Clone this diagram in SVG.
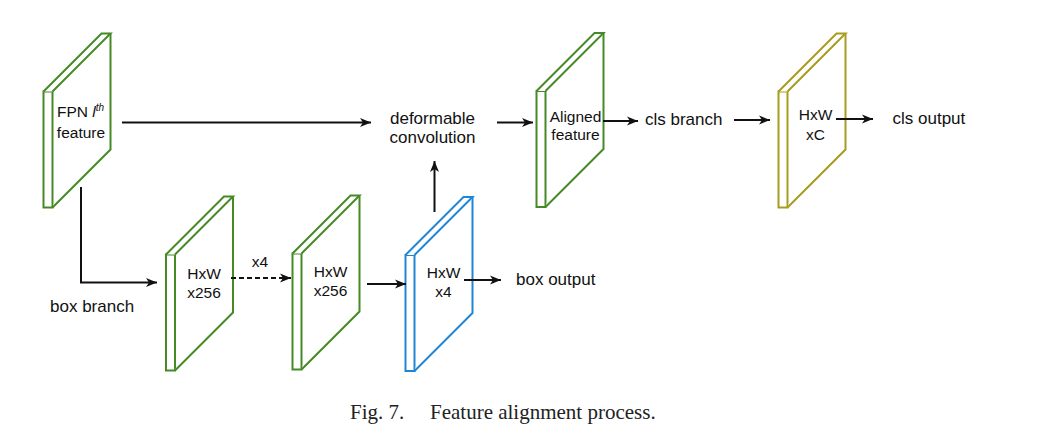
<svg xmlns="http://www.w3.org/2000/svg" width="1045" height="446" viewBox="0 0 1045 446">
<style>
.slab path{fill:#fff;stroke-width:2;stroke-linejoin:miter}
.green path{stroke:#468a26}
.blue path{stroke:#1f86d6}
.olive path{stroke:#a89c1f}
.lbl{font-family:"Liberation Sans",Arial,sans-serif;font-size:15.5px;fill:#111;text-anchor:middle}
.txt{font-family:"Liberation Sans",Arial,sans-serif;font-size:17px;fill:#111}
.cap{font-family:"Liberation Serif","Times New Roman",serif;font-size:21px;fill:#222}
.conn path{fill:none;stroke:#111;stroke-width:2}
</style>
<defs>
<marker id="ah" markerUnits="userSpaceOnUse" markerWidth="12" markerHeight="10" refX="11" refY="5" orient="auto">
<path d="M0,0.5 L11,5 L0,9.5 L3,5 Z" fill="#111"/>
</marker>
</defs>
<rect width="1045" height="446" fill="#fff"/>

<g id="fpn" class="slab green" transform="translate(43.5,91.5)">
<path d="M0,0 H9 V116 H0 Z"/>
<path d="M0,0 L58,-58 H67 L9,0"/>
<path d="M67,-58 V58 L9,116"/>
<text class="lbl" x="13.5" y="25.5" style="text-anchor:start">FPN <tspan font-style="italic">l</tspan><tspan font-size="10" dy="-6" font-style="italic">th</tspan></text>
<text class="lbl" x="37.5" y="46.5">feature</text>
</g>

<g id="box1" class="slab green" transform="translate(166,254.5)">
<path d="M0,0 H9 V116 H0 Z"/>
<path d="M0,0 L58,-58 H67 L9,0"/>
<path d="M67,-58 V58 L9,116"/>
<text class="lbl" x="38" y="24.5">HxW</text>
<text class="lbl" x="38" y="43.5">x256</text>
</g>

<g id="box2" class="slab green" transform="translate(292.5,253.5)">
<path d="M0,0 H9 V116 H0 Z"/>
<path d="M0,0 L58,-58 H67 L9,0"/>
<path d="M67,-58 V58 L9,116"/>
<text class="lbl" x="38" y="23.5">HxW</text>
<text class="lbl" x="38" y="42.5">x256</text>
</g>

<g id="boxout" class="slab blue" transform="translate(405.5,255)">
<path d="M0,0 H9 V116 H0 Z"/>
<path d="M0,0 L58,-58 H67 L9,0"/>
<path d="M67,-58 V58 L9,116"/>
<text class="lbl" x="38" y="23">HxW</text>
<text class="lbl" x="38" y="42">x4</text>
</g>

<g id="aligned" class="slab green" transform="translate(536.5,91)">
<path d="M0,0 H9 V116 H0 Z"/>
<path d="M0,0 L58,-58 H67 L9,0"/>
<path d="M67,-58 V58 L9,116"/>
<text class="lbl" x="39" y="30.5">Aligned</text>
<text class="lbl" x="39" y="49">feature</text>
</g>

<g id="clsmap" class="slab olive" transform="translate(778.5,91.5)">
<path d="M0,0 H9 V116 H0 Z"/>
<path d="M0,0 L58,-58 H67 L9,0"/>
<path d="M67,-58 V58 L9,116"/>
<text class="lbl" x="37" y="28">HxW</text>
<text class="lbl" x="37" y="48.5">xC</text>
</g>

<g id="deform">
<text class="txt" x="432.5" y="124" text-anchor="middle">deformable</text>
<text class="txt" x="432.5" y="143" text-anchor="middle">convolution</text>
</g>
<g id="clsbranch"><text class="txt" x="645" y="125">cls branch</text></g>
<g id="clsoutput"><text class="txt" x="892.5" y="124">cls output</text></g>
<g id="boxoutput"><text class="txt" x="516" y="285">box output</text></g>
<g id="boxbranch"><text class="txt" x="50" y="312">box branch</text></g>

<g id="connectors" class="conn">
<path d="M122,122.5 H371" marker-end="url(#ah)"/>
<path d="M497,122.5 H533" marker-end="url(#ah)"/>
<path d="M603,121 H638" marker-end="url(#ah)"/>
<path d="M734,120 H770" marker-end="url(#ah)"/>
<path d="M836,119 H873" marker-end="url(#ah)"/>
<path d="M81,187 V282.5 H157" marker-end="url(#ah)"/>
<path d="M231,278 H291" stroke-dasharray="5,3" marker-end="url(#ah)"/>
<path d="M367,284 H406" marker-end="url(#ah)"/>
<path d="M464,280 H501" marker-end="url(#ah)"/>
<path d="M434.5,212 V161" marker-end="url(#ah)"/>
<text class="lbl" x="260" y="267">x4</text>
</g>

<text class="cap" x="350" y="419">Fig. 7.</text>
<text class="cap" x="430" y="419">Feature alignment process.</text>
</svg>
